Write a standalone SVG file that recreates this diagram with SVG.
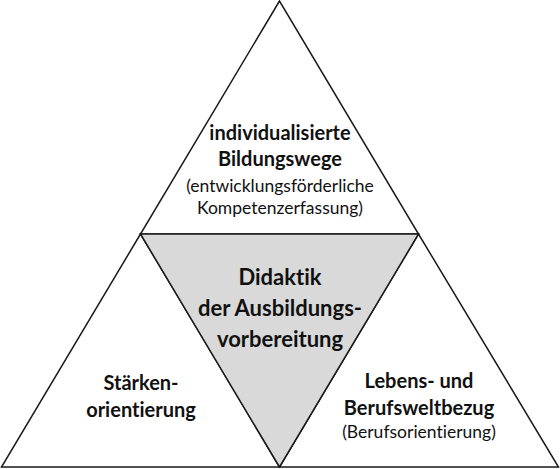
<svg xmlns="http://www.w3.org/2000/svg" width="560" height="469" viewBox="0 0 560 469">
<style>
.tri{fill:#ffffff;stroke:#1a1a1a;stroke-width:1.5;stroke-linejoin:miter}
.mid{fill:#d9d9d9;stroke:#1a1a1a;stroke-width:1.5}
text{font-family:Lato,"Open Sans","Noto Sans",sans-serif;fill:#111;text-anchor:middle;font-variant-ligatures:none;font-feature-settings:"liga" 0,"clig" 0}
.b{font-weight:bold;font-size:20px}
.bm{font-weight:bold;font-size:22px}
.r{font-size:17.5px}
</style>
<rect width="560" height="469" fill="#ffffff"/>
<g id="top-node">
<polygon class="tri" points="279.5,1 140.5,234 418.5,234"/>
<text class="b" x="280" y="140">individualisierte</text>
<text class="b" x="280" y="166">Bildungswege</text>
<text class="r" x="280" y="192">(entwicklungsförderliche</text>
<text class="r" x="280" y="214">Kompetenzerfassung)</text>
</g>
<g id="left-node">
<polygon class="tri" points="140.5,234 1.5,467 279.5,467"/>
<text class="b" x="141" y="390">Stärken-</text>
<text class="b" x="141" y="417">orientierung</text>
</g>
<g id="right-node">
<polygon class="tri" points="418.5,234 279.5,467 558.5,467"/>
<text class="b" x="419" y="388">Lebens- und</text>
<text class="b" x="419" y="415">Berufsweltbezug</text>
<text class="r" x="419" y="438">(Berufsorientierung)</text>
</g>
<g id="center-node">
<polygon class="mid" points="140.5,234 418.5,234 279.5,467"/>
<text class="bm" x="280" y="285">Didaktik</text>
<text class="bm" x="280" y="316">der Ausbildungs-</text>
<text class="bm" x="280" y="347">vorbereitung</text>
</g>
<g id="connectors"></g>
</svg>
